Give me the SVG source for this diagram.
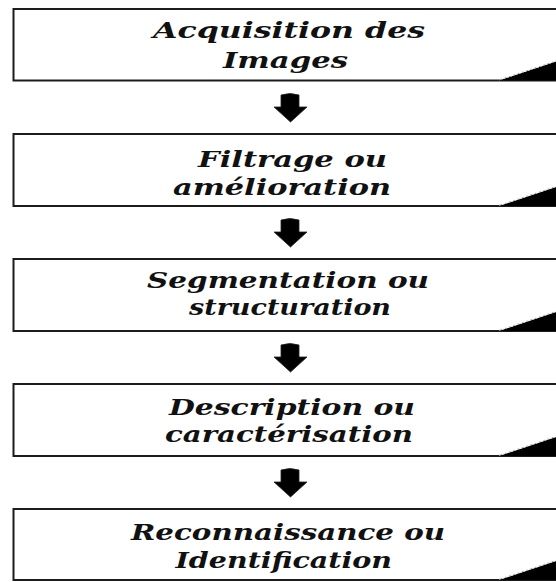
<svg xmlns="http://www.w3.org/2000/svg" width="556" height="582" viewBox="0 0 556 582">
<defs>
<style>
.box{fill:#fff;stroke:#1c1c1c;stroke-width:2}
.lbl{font-family:'DejaVu Serif','Liberation Serif',serif;font-style:italic;font-weight:bold;font-size:22px;fill:#111}
.wedge{fill:#000}
.hl{stroke:#9a9a9a;stroke-width:1;fill:none}
.hd{stroke:#fff;stroke-width:1.2;stroke-dasharray:3 1.5;fill:none}
.arr{fill:#000;stroke:#222;stroke-width:0.8}
</style>
<g id="fold">
<polygon class="wedge" points="499,0 556,-19 556,0"/>
<line class="hl" x1="499" y1="-0.5" x2="556" y2="-19.5"/>
<line class="hd" x1="502" y1="-1.8" x2="556" y2="-19.8"/>
</g>
<path id="arrow" class="arr" d="M281,2 Q290,-1 299,2 L299,14 L307,14 L290.5,29 L274,14 L281,14 Z"/>
</defs>

<g id="node1">
<rect class="box" x="13.5" y="9" width="600" height="71.5"/>
<use href="#fold" transform="translate(0,80.5)"/>
<text class="lbl" x="153" y="38" textLength="272" lengthAdjust="spacingAndGlyphs">Acquisition des</text>
<text class="lbl" x="223" y="68" textLength="125" lengthAdjust="spacingAndGlyphs">Images</text>
</g>

<g id="node2">
<rect class="box" x="13.5" y="134" width="600" height="72"/>
<use href="#fold" transform="translate(0,206)"/>
<text class="lbl" x="198" y="167" textLength="189" lengthAdjust="spacingAndGlyphs">Filtrage ou</text>
<text class="lbl" x="173" y="195" textLength="218" lengthAdjust="spacingAndGlyphs">amélioration</text>
</g>

<g id="node3">
<rect class="box" x="13.5" y="259" width="600" height="72"/>
<use href="#fold" transform="translate(0,331)"/>
<text class="lbl" x="147" y="288" textLength="282" lengthAdjust="spacingAndGlyphs">Segmentation ou</text>
<text class="lbl" x="189" y="315" textLength="202" lengthAdjust="spacingAndGlyphs">structuration</text>
</g>

<g id="node4">
<rect class="box" x="13.5" y="384" width="600" height="72"/>
<use href="#fold" transform="translate(0,456)"/>
<text class="lbl" x="169" y="415" textLength="246" lengthAdjust="spacingAndGlyphs">Description ou</text>
<text class="lbl" x="165" y="442" textLength="248" lengthAdjust="spacingAndGlyphs">caractérisation</text>
</g>

<g id="node5">
<rect class="box" x="13.5" y="509" width="600" height="71"/>
<use href="#fold" transform="translate(0,580)"/>
<text class="lbl" x="131" y="540" textLength="314" lengthAdjust="spacingAndGlyphs">Reconnaissance ou</text>
<text class="lbl" x="175.5" y="568" textLength="216.5" lengthAdjust="spacingAndGlyphs">Identification</text>
</g>

<g id="connectors">
<use href="#arrow" transform="translate(0,93)"/>
<use href="#arrow" transform="translate(0,218)"/>
<use href="#arrow" transform="translate(0,343)"/>
<use href="#arrow" transform="translate(0,468)"/>
</g>
</svg>
